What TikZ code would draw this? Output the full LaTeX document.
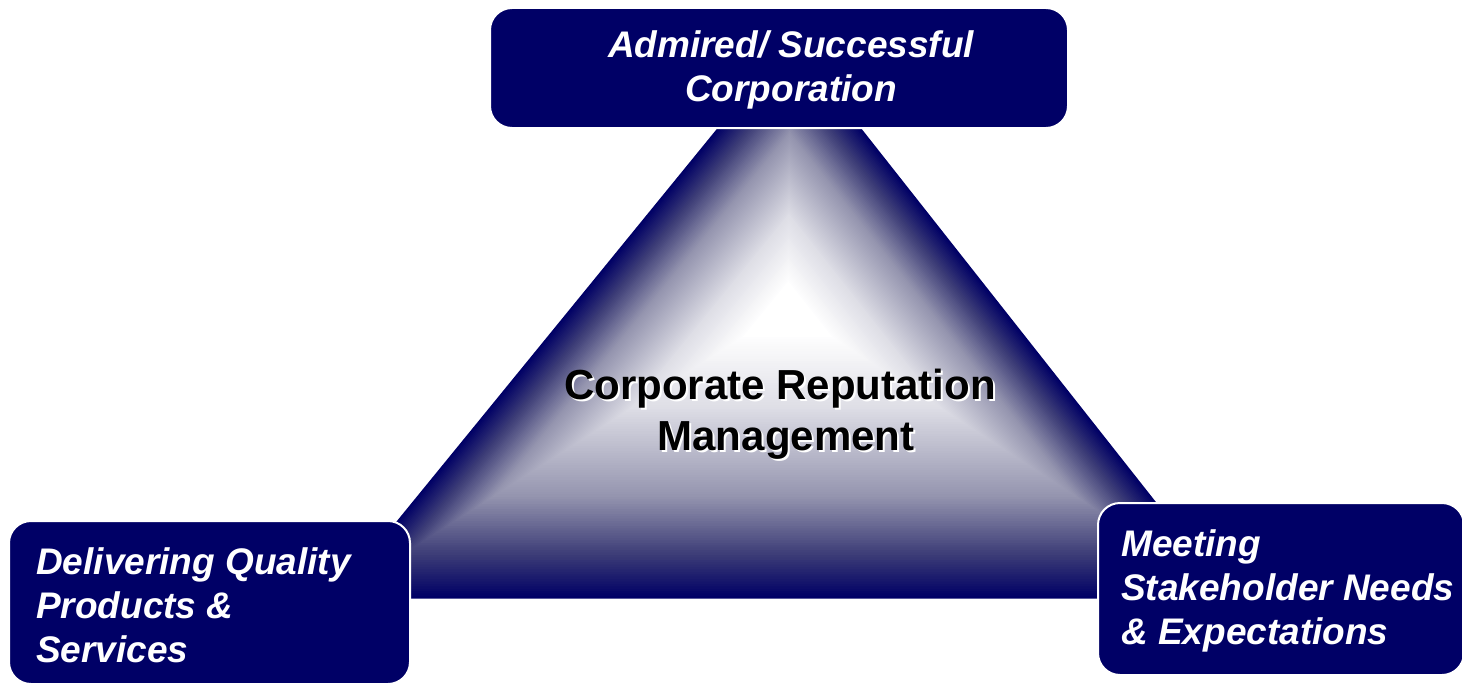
\documentclass[tikz,border=0pt]{standalone}
\usepackage{fontspec}
\setmainfont{Liberation Sans}
\usetikzlibrary{calc}
\definecolor{navy}{RGB}{0,0,102}
\begin{document}
\begin{tikzpicture}[x=1pt,y=-1pt,
  box/.style={draw=white, line width=2pt, fill=navy, rounded corners=22pt, inner sep=0pt},
  boxtext/.style={text=white, font=\fontsize{37}{44}\selectfont\bfseries\itshape, inner sep=0pt},
  centertext/.style={font=\fontsize{42}{50}\selectfont\bfseries, inner sep=0pt}]
\useasboundingbox (0,0) rectangle (1462,685);
% triangle with path gradient
\coordinate (A) at (790.5,38.7);
\coordinate (B) at (333.7,598.5);
\coordinate (D) at (1232,598.5);
\coordinate (C) at (788,308);
\foreach \k in {0,...,120} {
  \pgfmathsetmacro\s{1-\k/120}
  \pgfmathtruncatemacro\rr{\s>0.85 ? (1-\s)/0.15*62 : (\s>0.65 ? 62+(0.85-\s)/0.2*88 : (\s>0.35 ? 150+(0.65-\s)/0.3*72 : (\s>0.1 ? 222+(0.35-\s)/0.25*33 : 255)))}
  \pgfmathtruncatemacro\bb{\s>0.85 ? 102+(1-\s)/0.15*18 : (\s>0.65 ? 120+(0.85-\s)/0.2*56 : (\s>0.35 ? 176+(0.65-\s)/0.3*54 : (\s>0.1 ? 230+(0.35-\s)/0.25*25 : 255)))}
  \definecolor{gc}{RGB}{\rr,\rr,\bb}
  \fill[gc] ($(C)!\s!(A)$) -- ($(C)!\s!(B)$) -- ($(C)!\s!(D)$) -- cycle;
}
% boxes
\node[box, minimum width=578pt, minimum height=120pt] (topbox) at (779,68) {};
\node[box, minimum width=401pt, minimum height=163pt] (leftbox) at (209.5,602.5) {};
\node[box, minimum width=366pt, minimum height=172pt] (rightbox) at (1281,589) {};
% box texts
\node[boxtext, anchor=base] (top1) at (791,58) {Admired/ Successful};
\node[boxtext, anchor=base] (top2) at (791,102) {Corporation};
\node[boxtext, anchor=base west] (left1) at (36,574) {Delivering Quality};
\node[boxtext, anchor=base west] (left2) at (36,618) {Products \&};
\node[boxtext, anchor=base west] (left3) at (36,662) {Services};
\node[boxtext, anchor=base west] (right1) at (1121,556) {Meeting};
\node[boxtext, anchor=base west] (right2) at (1121,600) {Stakeholder Needs};
\node[boxtext, anchor=base west] (right3) at (1121,644) {\& Expectations};
% centre text with white shadow
\node[centertext, text=white, anchor=base] (c1s) at (782,401) {Corporate Reputation};
\node[centertext, text=white, anchor=base] (c2s) at (788,452) {Management};
\node[centertext, text=black, anchor=base] (c1) at (780,399) {Corporate Reputation};
\node[centertext, text=black, anchor=base] (c2) at (786,450) {Management};
\end{tikzpicture}
\end{document}
